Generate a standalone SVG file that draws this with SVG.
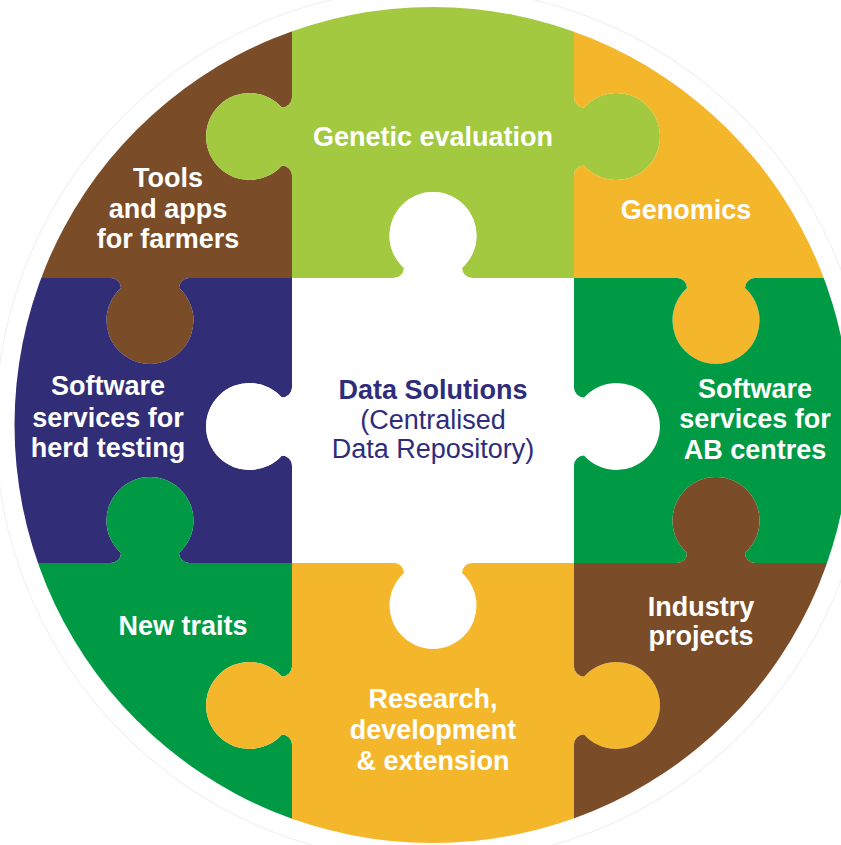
<svg xmlns="http://www.w3.org/2000/svg" width="841" height="845" viewBox="0 0 841 845">
<style>
.lbl{font-family:"Liberation Sans",Arial,sans-serif;font-size:27px;font-weight:bold;fill:#ffffff;text-anchor:middle}
.ctr{font-family:"Liberation Sans",Arial,sans-serif;font-size:27px;fill:#2f2c7c;text-anchor:middle}
.ctrb{font-weight:bold}
.brown{fill:#7a4c27}.lgreen{fill:#a2c93f}.yellow{fill:#f4b62a}.navy{fill:#312d77}.green{fill:#009a45}.white{fill:#ffffff}
</style>
<defs>
<clipPath id="circ"><circle cx="432.5" cy="425" r="418"/></clipPath>
</defs>
<rect x="0" y="0" width="841" height="845" fill="#ffffff"/>
<circle cx="432.5" cy="425" r="437" fill="none" stroke="#f1f1f1" stroke-width="1.2"/>

<g id="tools-apps">
<path class="brown" clip-path="url(#circ)" d="M0,0 L292,0 L292,97.5 A10 10 0 0 1 282,107.5 A43.5 43.5 0 1 0 282,165.5 A10 10 0 0 1 292,175.5 L292,278 L189,278 A10 10 0 0 0 179,288 A43.5 43.5 0 1 1 121,288 A10 10 0 0 0 111,278 L0,278 Z"/>
<text class="lbl" x="168" y="187">Tools</text>
<text class="lbl" x="168" y="218">and apps</text>
<text class="lbl" x="168" y="248">for farmers</text>
</g>

<g id="genetic-evaluation">
<path class="lgreen" clip-path="url(#circ)" d="M292,0 L574,0 L574,97.5 A10 10 0 0 0 584,107.5 A43.5 43.5 0 1 1 584,165.5 A10 10 0 0 0 574,175.5 L574,278 L472,278 A10 10 0 0 1 462,268 A43.5 43.5 0 1 0 404,268 A10 10 0 0 1 394,278 L292,278 L292,175.5 A10 10 0 0 0 282,165.5 A43.5 43.5 0 1 1 282,107.5 A10 10 0 0 0 292,97.5 Z"/>
<text class="lbl" x="433" y="146">Genetic evaluation</text>
</g>

<g id="genomics">
<path class="yellow" clip-path="url(#circ)" d="M574,0 L860,0 L860,278 L755,278 A10 10 0 0 0 745,288 A43.5 43.5 0 1 1 687,288 A10 10 0 0 0 677,278 L574,278 L574,175.5 A10 10 0 0 1 584,165.5 A43.5 43.5 0 1 0 584,107.5 A10 10 0 0 1 574,97.5 Z"/>
<text class="lbl" x="686" y="219">Genomics</text>
</g>

<g id="herd-testing">
<path class="navy" clip-path="url(#circ)" d="M0,278 L111,278 A10 10 0 0 1 121,288 A43.5 43.5 0 1 0 179,288 A10 10 0 0 1 189,278 L292,278 L292,387.5 A10 10 0 0 1 282,397.5 A43.5 43.5 0 1 0 282,455.5 A10 10 0 0 1 292,465.5 L292,563 L189,563 A10 10 0 0 1 179,553 A43.5 43.5 0 1 0 121,553 A10 10 0 0 1 111,563 L0,563 Z"/>
<text class="lbl" x="108" y="395">Software</text>
<text class="lbl" x="108" y="427">services for</text>
<text class="lbl" x="108" y="457">herd testing</text>
</g>

<g id="data-solutions">
<path class="white" clip-path="url(#circ)" d="M292,278 L394,278 A10 10 0 0 0 404,268 A43.5 43.5 0 1 1 462,268 A10 10 0 0 0 472,278 L574,278 L574,387.5 A10 10 0 0 0 584,397.5 A43.5 43.5 0 1 1 584,455.5 A10 10 0 0 0 574,465.5 L574,563 L472,563 A10 10 0 0 0 462,573 A43.5 43.5 0 1 1 404,573 A10 10 0 0 0 394,563 L292,563 L292,465.5 A10 10 0 0 0 282,455.5 A43.5 43.5 0 1 1 282,397.5 A10 10 0 0 0 292,387.5 Z"/>
<text class="ctr ctrb" x="433" y="399">Data Solutions</text>
<text class="ctr" x="433" y="429">(Centralised</text>
<text class="ctr" x="433" y="458">Data Repository)</text>
</g>

<g id="ab-centres">
<path class="green" clip-path="url(#circ)" d="M574,278 L677,278 A10 10 0 0 1 687,288 A43.5 43.5 0 1 0 745,288 A10 10 0 0 1 755,278 L860,278 L860,563 L755,563 A10 10 0 0 1 745,553 A43.5 43.5 0 1 0 687,553 A10 10 0 0 1 677,563 L574,563 L574,465.5 A10 10 0 0 1 584,455.5 A43.5 43.5 0 1 0 584,397.5 A10 10 0 0 1 574,387.5 Z"/>
<text class="lbl" x="755" y="398">Software</text>
<text class="lbl" x="755" y="428">services for</text>
<text class="lbl" x="755" y="459">AB centres</text>
</g>

<g id="new-traits">
<path class="green" clip-path="url(#circ)" d="M0,563 L111,563 A10 10 0 0 0 121,553 A43.5 43.5 0 1 1 179,553 A10 10 0 0 0 189,563 L292,563 L292,666.5 A10 10 0 0 1 282,676.5 A43.5 43.5 0 1 0 282,734.5 A10 10 0 0 1 292,744.5 L292,845 L0,845 Z"/>
<text class="lbl" x="183" y="635">New traits</text>
</g>

<g id="research">
<path class="yellow" clip-path="url(#circ)" d="M292,563 L394,563 A10 10 0 0 1 404,573 A43.5 43.5 0 1 0 462,573 A10 10 0 0 1 472,563 L574,563 L574,666.5 A10 10 0 0 0 584,676.5 A43.5 43.5 0 1 1 584,734.5 A10 10 0 0 0 574,744.5 L574,845 L292,845 L292,744.5 A10 10 0 0 0 282,734.5 A43.5 43.5 0 1 1 282,676.5 A10 10 0 0 0 292,666.5 Z"/>
<text class="lbl" x="433" y="708">Research,</text>
<text class="lbl" x="433" y="739">development</text>
<text class="lbl" x="433" y="770">&amp; extension</text>
</g>

<g id="industry-projects">
<path class="brown" clip-path="url(#circ)" d="M574,563 L677,563 A10 10 0 0 0 687,553 A43.5 43.5 0 1 1 745,553 A10 10 0 0 0 755,563 L860,563 L860,845 L574,845 L574,744.5 A10 10 0 0 1 584,734.5 A43.5 43.5 0 1 0 584,676.5 A10 10 0 0 1 574,666.5 Z"/>
<text class="lbl" x="701" y="616">Industry</text>
<text class="lbl" x="701" y="645">projects</text>
</g>

<g id="connectors"/>
</svg>
